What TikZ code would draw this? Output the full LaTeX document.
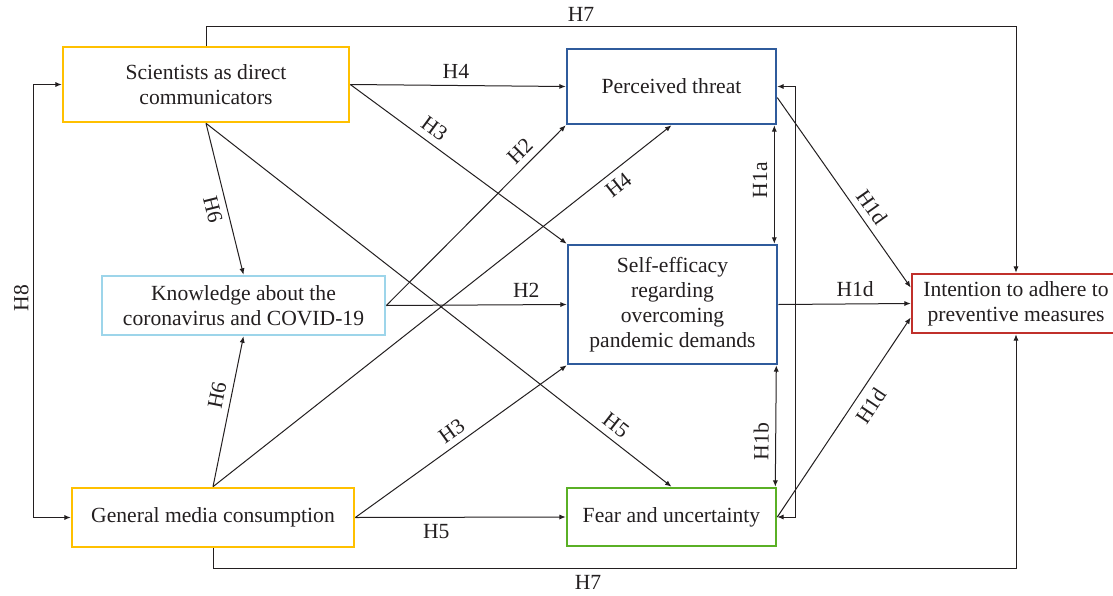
\documentclass[tikz,border=0pt]{standalone}
\usepackage{fontspec}
\setmainfont{Liberation Serif}
\usetikzlibrary{arrows.meta,calc}
\definecolor{cyellow}{HTML}{FFC000}
\definecolor{cblue}{HTML}{2F5B9C}
\definecolor{clight}{HTML}{9DD5EA}
\definecolor{cgreen}{HTML}{5AB025}
\definecolor{cred}{HTML}{C0302B}
\definecolor{ctext}{HTML}{231F20}
\begin{document}
\begin{tikzpicture}[x=0.5pt,y=-0.5pt,
  box/.style={draw, line width=1.3pt, align=center, inner sep=0pt, font=\fontsize{10.8}{12.6}\selectfont, text=ctext},
  conn/.style={draw=ctext, line width=0.5pt},
  arr/.style={conn,-{Latex[length=3.2pt,width=2.6pt]}},
  darr/.style={conn,{Latex[length=3.2pt,width=2.6pt]}-{Latex[length=3.2pt,width=2.6pt]}},
  lab/.style={font=\fontsize{10.8}{12.6}\selectfont, text=ctext, inner sep=3.2pt}
]
\useasboundingbox (0,0) rectangle (1113,595);
\fill[white] (0,0) rectangle (1113,595);

\node[box, draw=cyellow, minimum width=143pt, minimum height=37.5pt] (sci) at (206,84.5) {Scientists as direct\\communicators};
\node[box, draw=cblue, minimum width=104.5pt, minimum height=37.5pt] (pt) at (671.5,86.5) {Perceived threat};
\node[box, draw=cblue, minimum width=104.5pt, minimum height=59.5pt] (se) at (672.5,304.5) {Self-efficacy\\regarding\\overcoming\\pandemic demands};
\node[box, draw=clight, minimum width=141.5pt, minimum height=29.5pt] (know) at (243.5,305.5) {Knowledge about the\\coronavirus and COVID-19};
\node[box, draw=cyellow, minimum width=141pt, minimum height=29.5pt] (gen) at (213,517.5) {General media consumption};
\node[box, draw=cgreen, minimum width=104.5pt, minimum height=29pt] (fear) at (671.5,517) {Fear and uncertainty};
\node[box, draw=cred, minimum width=104pt, minimum height=29.5pt] (int) at (1016,303.5) {Intention to adhere to\\preventive measures};

\coordinate (h7t) at (600,26);
\coordinate (h7b) at (600,568);
\coordinate (h8) at (33,300);
\coordinate (fb) at (795,300);

% H7
\draw[arr] (sci.north) -- (sci.north |- h7t) -- node[lab,above,pos=0.463,inner sep=2pt]{H7} (int.north |- h7t) -- (int.north);
\draw[arr] (gen.south) -- (gen.south |- h7b) -- node[lab,below,pos=0.467]{H7} (int.south |- h7b) -- (int.south);

% H8
\draw[conn] (h8 |- gen.west) -- node[lab,above,sloped,pos=0.507,inner sep=2pt]{H8} (h8 |- sci.west);
\draw[arr] (h8 |- sci.west) -- (sci.west);
\draw[arr] (h8 |- gen.west) -- (gen.west);

% from scientists
\draw[arr] (sci.east) -- node[lab,above,sloped,pos=0.49]{H4} (pt.west);
\draw[arr] (sci.east) -- node[lab,above,sloped,pos=0.35]{H3} (se.north west);
\draw[arr] (sci.south) -- node[lab,above,sloped,pos=0.862]{H5} (fear.north);
\draw[arr] (sci.south) -- node[lab,below,sloped,pos=0.55]{H6} (know.north);

% from general media
\draw[arr] (gen.north) -- node[lab,above,sloped,pos=0.59]{H6} (know.south);
\draw[arr] (gen.north) -- node[lab,below,sloped,pos=0.865]{H4} (pt.south);
\draw[arr] (gen.east) -- node[lab,above,sloped,pos=0.495]{H3} (se.south west);
\draw[arr] (gen.east) -- node[lab,below,pos=0.385]{H5} (fear.west);

% from knowledge
\draw[arr] (know.east) -- node[lab,above,sloped,pos=0.8]{H2} (pt.south west);
\draw[arr] (know.east) -- node[lab,above,pos=0.776]{H2} (se.west);

% mediators
\draw[darr] ($(se.north east)+(-4,0)$) -- node[lab,above,sloped,pos=0.537]{H1a} ($(pt.south east)+(-3,0)$);
\draw[darr] ($(fear.north east)+(-2,0)$) -- node[lab,above,sloped,pos=0.37]{H1b} ($(se.south east)+(-2,0)$);
\draw[darr] (pt.east) -| (fb) |- (fear.east);

% to intention
\draw[arr] (pt.-6) -- node[lab,above,sloped,pos=0.62]{H1d} ([yshift=8pt]int.west);
\draw[arr] (se.east) -- node[lab,above,pos=0.58]{H1d} (int.west);
\draw[arr] (fear.east) -- node[lab,below,sloped,pos=0.6,inner sep=4pt]{H1d} ([yshift=-7pt]int.west);
\end{tikzpicture}
\end{document}
